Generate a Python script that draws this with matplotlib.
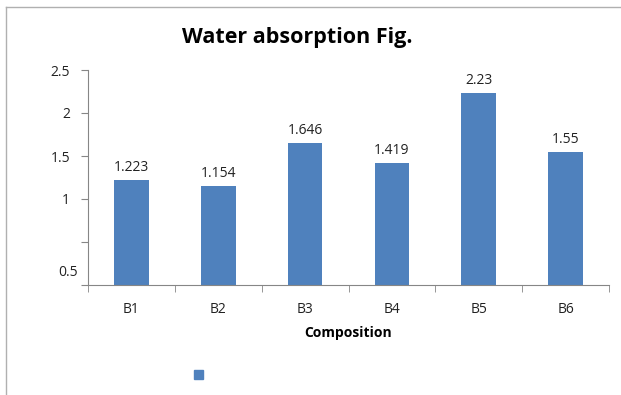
import matplotlib.pyplot as plt
import numpy as np

# water absorption per composition
compositions = ['B1', 'B2', 'B3', 'B4', 'B5', 'B6']
absorption = [1.223, 1.154, 1.646, 1.419, 2.23, 1.55]
value_labels = ['1.223', '1.154', '1.646', '1.419', '2.23', '1.55']

bar_color = '#4F81BD'
axis_gray = '#868686'
font = 'Open Sans'

fig = plt.figure(figsize=(6.21, 3.95), dpi=100)
ax = fig.add_axes([88 / 621, 110 / 395, 521 / 621, 215 / 395])

x = np.arange(len(compositions))
ax.bar(x, absorption, width=0.4, color=bar_color)

for xi, v, lab in zip(x, absorption, value_labels):
    ax.text(xi, v + 0.06, lab, ha='center', va='bottom', fontsize=10,
            family=font, color='#222222')

ax.set_xlim(-0.5, len(compositions) - 0.5)
ax.set_ylim(0, 2.5)

# y ticks every 0.5, the lowest labelled one sits near the axis
ax.set_yticks([0, 0.5, 1, 1.5, 2, 2.5])
ax.set_yticklabels(['', '', '1', '1.5', '2', '2.5'], family=font, fontsize=10)
ax.text(-0.62, 0.15, '0.5', ha='right', va='center', fontsize=10,
        family=font, color='#222222', transform=ax.transData)

# category labels centred, tick marks between categories
ax.set_xticks(x)
ax.set_xticklabels(compositions, family=font, fontsize=10)
ax.set_xticks(np.arange(-0.5, len(compositions)), minor=True)
ax.tick_params(axis='x', which='minor', length=5, color=axis_gray)
ax.tick_params(axis='x', which='major', length=0, pad=12)
ax.tick_params(axis='y', length=5, color=axis_gray, pad=8)
ax.tick_params(colors='#222222', which='major')
ax.tick_params(axis='y', which='major', color=axis_gray)

for side in ['top', 'right']:
    ax.spines[side].set_visible(False)
for side in ['left', 'bottom']:
    ax.spines[side].set_color(axis_gray)

ax.set_xlabel('Composition', family=font, fontsize=10, fontweight='bold',
              labelpad=7)
fig.text(297 / 621, 1 - 37 / 395, 'Water absorption Fig.', ha='center',
         va='center', family=font, fontsize=15.5, fontweight='bold')

# legend marker without text
fig.patches.append(plt.Rectangle((194 / 621, 1 - 379 / 395), 9 / 621, 9 / 395,
                                 transform=fig.transFigure, color=bar_color))

# chart border
fig.add_artist(plt.Line2D([6 / 621, 6 / 621], [0, 1 - 7 / 395],
                          transform=fig.transFigure, color='#b0b0b0', lw=1))
fig.add_artist(plt.Line2D([6 / 621, 1], [1 - 7 / 395, 1 - 7 / 395],
                          transform=fig.transFigure, color='#b0b0b0', lw=1))

fig.savefig('out.png', dpi=100)
